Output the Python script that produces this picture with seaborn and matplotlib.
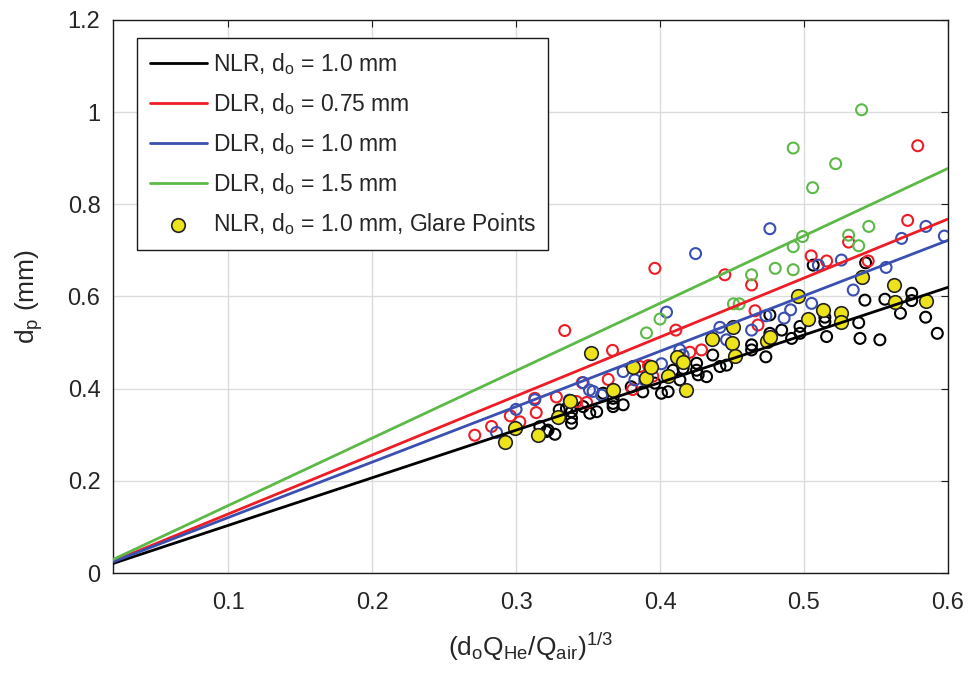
import numpy as np
import pandas as pd
import matplotlib
matplotlib.use("Agg")
import matplotlib.pyplot as plt
import seaborn as sns

# ---- data ----
fit_x_range = [0.02, 0.6]
fit_labels = ["NLR, d$_o$ = 1.0 mm", "DLR, d$_o$ = 0.75 mm", "DLR, d$_o$ = 1.0 mm", "DLR, d$_o$ = 1.5 mm"]
fit_slopes = [1.033, 1.28, 1.203, 1.463]

nlr_x = [0.5064, 0.5428, 0.5423, 0.5562, 0.5748, 0.5748, 0.567, 0.5845, 0.5926, 0.5527, 0.5389, 0.538,
         0.5157, 0.5145, 0.5145, 0.4972, 0.4972, 0.4914, 0.4845, 0.4763, 0.4763, 0.4735, 0.4636, 0.4636,
         0.4366, 0.4416, 0.4462, 0.4254, 0.4254, 0.4323, 0.4265, 0.416, 0.409, 0.4138, 0.3964, 0.401,
         0.4056, 0.388, 0.380, 0.3744, 0.3674, 0.3674, 0.3674, 0.3605, 0.3512, 0.356, 0.3385, 0.3385,
         0.3385, 0.335, 0.3466, 0.330, 0.321, 0.327, 0.3165, 0.3222]
nlr_y = [0.668, 0.673, 0.592, 0.594, 0.607, 0.591, 0.5635, 0.555, 0.520, 0.506, 0.509, 0.543,
         0.513, 0.555, 0.545, 0.535, 0.520, 0.509, 0.527, 0.560, 0.520, 0.469, 0.495, 0.484,
         0.473, 0.448, 0.451, 0.455, 0.440, 0.426, 0.430, 0.444, 0.440, 0.419, 0.412, 0.390,
         0.3935, 0.393, 0.404, 0.365, 0.379, 0.368, 0.361, 0.390, 0.3466, 0.350, 0.350, 0.336,
         0.325, 0.357, 0.361, 0.354, 0.307, 0.301, 0.3175, 0.310]

dlr075_x = [0.579, 0.3964, 0.3338, 0.445, 0.4636, 0.572, 0.531, 0.505, 0.5157, 0.5446, 0.466, 0.468,
            0.411, 0.367, 0.4288, 0.4207, 0.386, 0.392, 0.395, 0.364, 0.346, 0.328, 0.314, 0.296,
            0.283, 0.2713, 0.313, 0.342, 0.349, 0.381, 0.3026]
dlr075_y = [0.927, 0.661, 0.526, 0.647, 0.625, 0.765, 0.718, 0.688, 0.677, 0.677, 0.569, 0.538,
            0.527, 0.483, 0.484, 0.479, 0.448, 0.450, 0.427, 0.420, 0.413, 0.382, 0.348, 0.341,
            0.318, 0.299, 0.379, 0.372, 0.370, 0.398, 0.328]

dlr10_x = [0.4763, 0.4247, 0.5847, 0.5678, 0.5975, 0.526, 0.510, 0.557, 0.5342, 0.5053, 0.4045, 0.4907,
           0.4862, 0.4636, 0.4416, 0.4462, 0.4735, 0.401, 0.3744, 0.3825, 0.4138, 0.3535, 0.3594, 0.313,
           0.300, 0.2864, 0.3466, 0.416, 0.3894, 0.351, 0.337]
dlr10_y = [0.747, 0.693, 0.752, 0.726, 0.731, 0.679, 0.668, 0.663, 0.614, 0.585, 0.566, 0.571,
           0.553, 0.527, 0.533, 0.506, 0.558, 0.454, 0.437, 0.419, 0.484, 0.394, 0.386, 0.376,
           0.355, 0.305, 0.413, 0.473, 0.419, 0.397, 0.375]

dlr15_x = [0.540, 0.4925, 0.522, 0.506, 0.545, 0.531, 0.538, 0.499, 0.4925, 0.480, 0.4925, 0.4636,
           0.451, 0.455, 0.400, 0.3906]
dlr15_y = [1.005, 0.922, 0.888, 0.836, 0.752, 0.733, 0.710, 0.730, 0.708, 0.661, 0.658, 0.647,
           0.584, 0.584, 0.551, 0.521]

glare_x = [0.352, 0.4504, 0.496, 0.5625, 0.540, 0.5845, 0.563, 0.5133, 0.526, 0.526, 0.503, 0.4362,
           0.450, 0.452, 0.474, 0.4763, 0.4115, 0.416, 0.3813, 0.3906, 0.4056, 0.4177, 0.394, 0.3674,
           0.3373, 0.3293, 0.3153, 0.2991, 0.2921]
glare_y = [0.477, 0.533, 0.601, 0.625, 0.643, 0.590, 0.589, 0.571, 0.5635, 0.545, 0.5505, 0.507,
           0.500, 0.471, 0.504, 0.513, 0.468, 0.458, 0.446, 0.424, 0.4275, 0.396, 0.448, 0.397,
           0.374, 0.339, 0.2995, 0.314, 0.285]
glare_label = "NLR, d$_o$ = 1.0 mm, Glare Points"

x_ticks = [0.1, 0.2, 0.3, 0.4, 0.5, 0.6]
y_ticks = [0, 0.2, 0.4, 0.6, 0.8, 1.0, 1.2]
y_tick_labels = ["0", "0.2", "0.4", "0.6", "0.8", "1", "1.2"]

# ---- style ----
sns.set_theme(style="white")
plt.rcParams["font.family"] = ["Liberation Sans Narrow", "Liberation Sans", "DejaVu Sans"]
plt.rcParams["mathtext.default"] = "regular"

colors = ["#000000", "#ee1c25", "#3a4fb0", "#5cb947"]

fig = plt.figure(figsize=(9.68, 6.77), dpi=100)
ax = fig.add_axes([0.1167, 0.1536, 0.8626, 0.817])

open_sets = [(nlr_x, nlr_y), (dlr075_x, dlr075_y), (dlr10_x, dlr10_y), (dlr15_x, dlr15_y)]
for (xs, ys), c in zip(open_sets, colors):
    sns.scatterplot(x=xs, y=ys, ax=ax, s=62, facecolor="none", edgecolor=c,
                    linewidth=1.5, zorder=3, legend=False)

sns.scatterplot(x=glare_x, y=glare_y, ax=ax, s=95, color="#ece31a", edgecolor="#222222",
                linewidth=1.2, zorder=4, label=glare_label)

xr = np.array(fit_x_range)
for k, c, lab in zip(fit_slopes, colors, fit_labels):
    df = pd.DataFrame({"x": xr, "y": k * xr})
    sns.lineplot(data=df, x="x", y="y", ax=ax, color=c, linewidth=2.0, zorder=5, label=lab)

ax.set_xlim(0.02, 0.6)
ax.set_ylim(0, 1.2)
ax.set_xticks(x_ticks)
ax.set_xticklabels([f"{v:g}" for v in x_ticks])
ax.set_yticks(y_ticks)
ax.set_yticklabels(y_tick_labels)
ax.grid(True, color="#dcdcdc", linewidth=1.0)
ax.set_axisbelow(True)
for sp in ax.spines.values():
    sp.set_color("#1a1a1a")
    sp.set_linewidth(1.0)
ax.tick_params(axis="both", direction="in", length=5, width=0.8, colors="#1a1a1a",
               labelsize=17, labelcolor="#262626", top=True, right=True)
ax.tick_params(axis="x", pad=14)
ax.tick_params(axis="y", pad=9)

ax.set_xlabel("(d$_o$Q$_{He}$/Q$_{air}$)$^{1/3}$", fontsize=19, color="#262626", labelpad=12)
ax.set_ylabel("d$_p$ (mm)", fontsize=19, color="#262626", labelpad=16)

handles, labels = ax.get_legend_handles_labels()
order = [labels.index(l) for l in fit_labels] + [labels.index(glare_label)]
leg = ax.legend([handles[i] for i in order], [labels[i] for i in order],
                loc="upper left", bbox_to_anchor=(0.0287, 0.967), fontsize=16.5,
                frameon=True, fancybox=False, edgecolor="#1a1a1a", framealpha=1,
                handlelength=2.5, handletextpad=0.25, labelspacing=0.62, borderpad=0.55,
                borderaxespad=0.0)
leg.get_frame().set_linewidth(1.0)

fig.savefig("out.png", dpi=100, facecolor="white")
